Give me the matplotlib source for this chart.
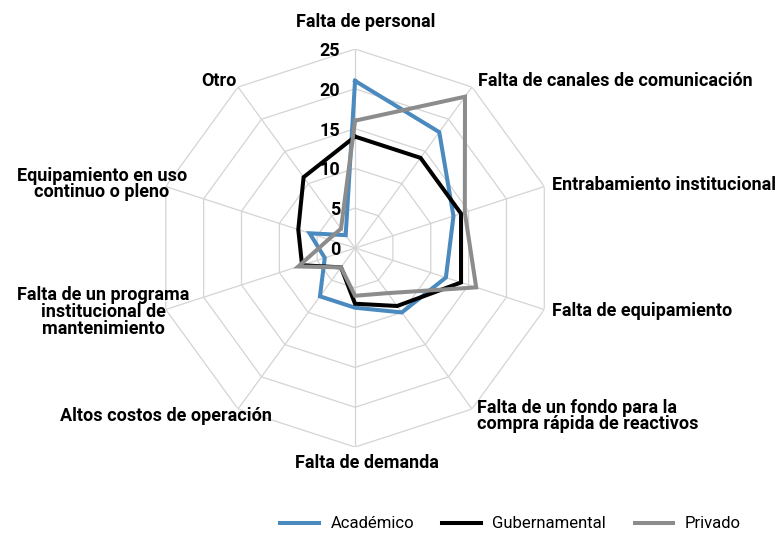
import numpy as np
import matplotlib
matplotlib.use("Agg")
import matplotlib.pyplot as plt

# --- Datos ---
categorias = [
    "Falta de personal",
    "Falta de canales de comunicación",
    "Entrabamiento institucional",
    "Falta de equipamiento",
    "Falta de un fondo para la\ncompra rápida de reactivos",
    "Falta de demanda",
    "Altos costos de operación",
    "Falta de un programa\ninstitucional de\nmantenimiento",
    "Equipamiento en uso\ncontinuo o pleno",
    "Otro",
]
academico = [21, 18, 13, 12, 10, 7.5, 7.5, 4, 6, 2]
gubernamental = [14, 14, 14, 14, 9, 7, 3, 7, 7.5, 11]
privado = [16, 23.5, 14.5, 16, 7, 6, 3, 7.5, 3.5, 3]
niveles = [0, 5, 10, 15, 20, 25]

series = [
    ("Académico", academico, "#4a8abf"),
    ("Gubernamental", gubernamental, "#000000"),
    ("Privado", privado, "#8c8c8c"),
]

plt.rcParams["font.family"] = ["Roboto", "DejaVu Sans"]

fig = plt.figure(figsize=(7.83, 5.33), dpi=100)
ax = fig.add_axes([0.1993, 0.1613, 0.5083, 0.7467], projection="polar")
ax.set_theta_zero_location("N")
ax.set_theta_direction(-1)
ax.set_ylim(0, 25)
ax.grid(False)
ax.spines["polar"].set_visible(False)
ax.set_xticks([])
ax.set_yticks([])
ax.patch.set_alpha(0)

n = len(categorias)
angulos = np.linspace(0, 2 * np.pi, n, endpoint=False)
cerrado = np.append(angulos, angulos[0])

# rejilla poligonal
gris_rejilla = "#d4d4d4"
for nivel in niveles[1:]:
    ax.plot(cerrado, [nivel] * (n + 1), color=gris_rejilla, lw=0.9, zorder=1)
for a in angulos:
    ax.plot([a, a], [0, niveles[-1]], color=gris_rejilla, lw=0.9, zorder=1)

# series
for nombre, valores, color in series:
    ax.plot(cerrado, valores + valores[:1], color=color, lw=2.9,
            label=nombre, zorder=3, solid_joinstyle="miter")

# etiquetas de escala
for nivel in niveles:
    ax.annotate(str(nivel), xy=(0, nivel), xytext=(-15, -2),
                textcoords="offset pixels", ha="right", va="center",
                fontsize=13, fontweight="bold", zorder=4)

# etiquetas de categorias (desplazamiento en pixeles, alineacion)
ajustes = [
    (11, 27, "center"), (6, 6, "left"), (8, 1.5, "left"), (8, -1.5, "left"),
    (5, -7, "left"), (12, -16, "center"), (34, -7, "right"), (24, -2.5, "right"),
    (21, 2.5, "right"), (-1, 6, "right"),
]
for a, etiqueta, (dx, dy, ha) in zip(angulos, categorias, ajustes):
    multi = "left" if ha == "left" else "center"
    ax.annotate(etiqueta, xy=(a, niveles[-1]), xytext=(dx, dy),
                textcoords="offset pixels", ha=ha, va="center",
                multialignment=multi, fontsize=13, fontweight="bold",
                linespacing=0.9, annotation_clip=False)

fig.legend(loc="center", bbox_to_anchor=(0.652, 0.017), ncol=3, frameon=False,
           fontsize=12, handlelength=2.3, handletextpad=0.7, columnspacing=1.7)

fig.savefig("out.png", dpi=100)
plt.close(fig)
